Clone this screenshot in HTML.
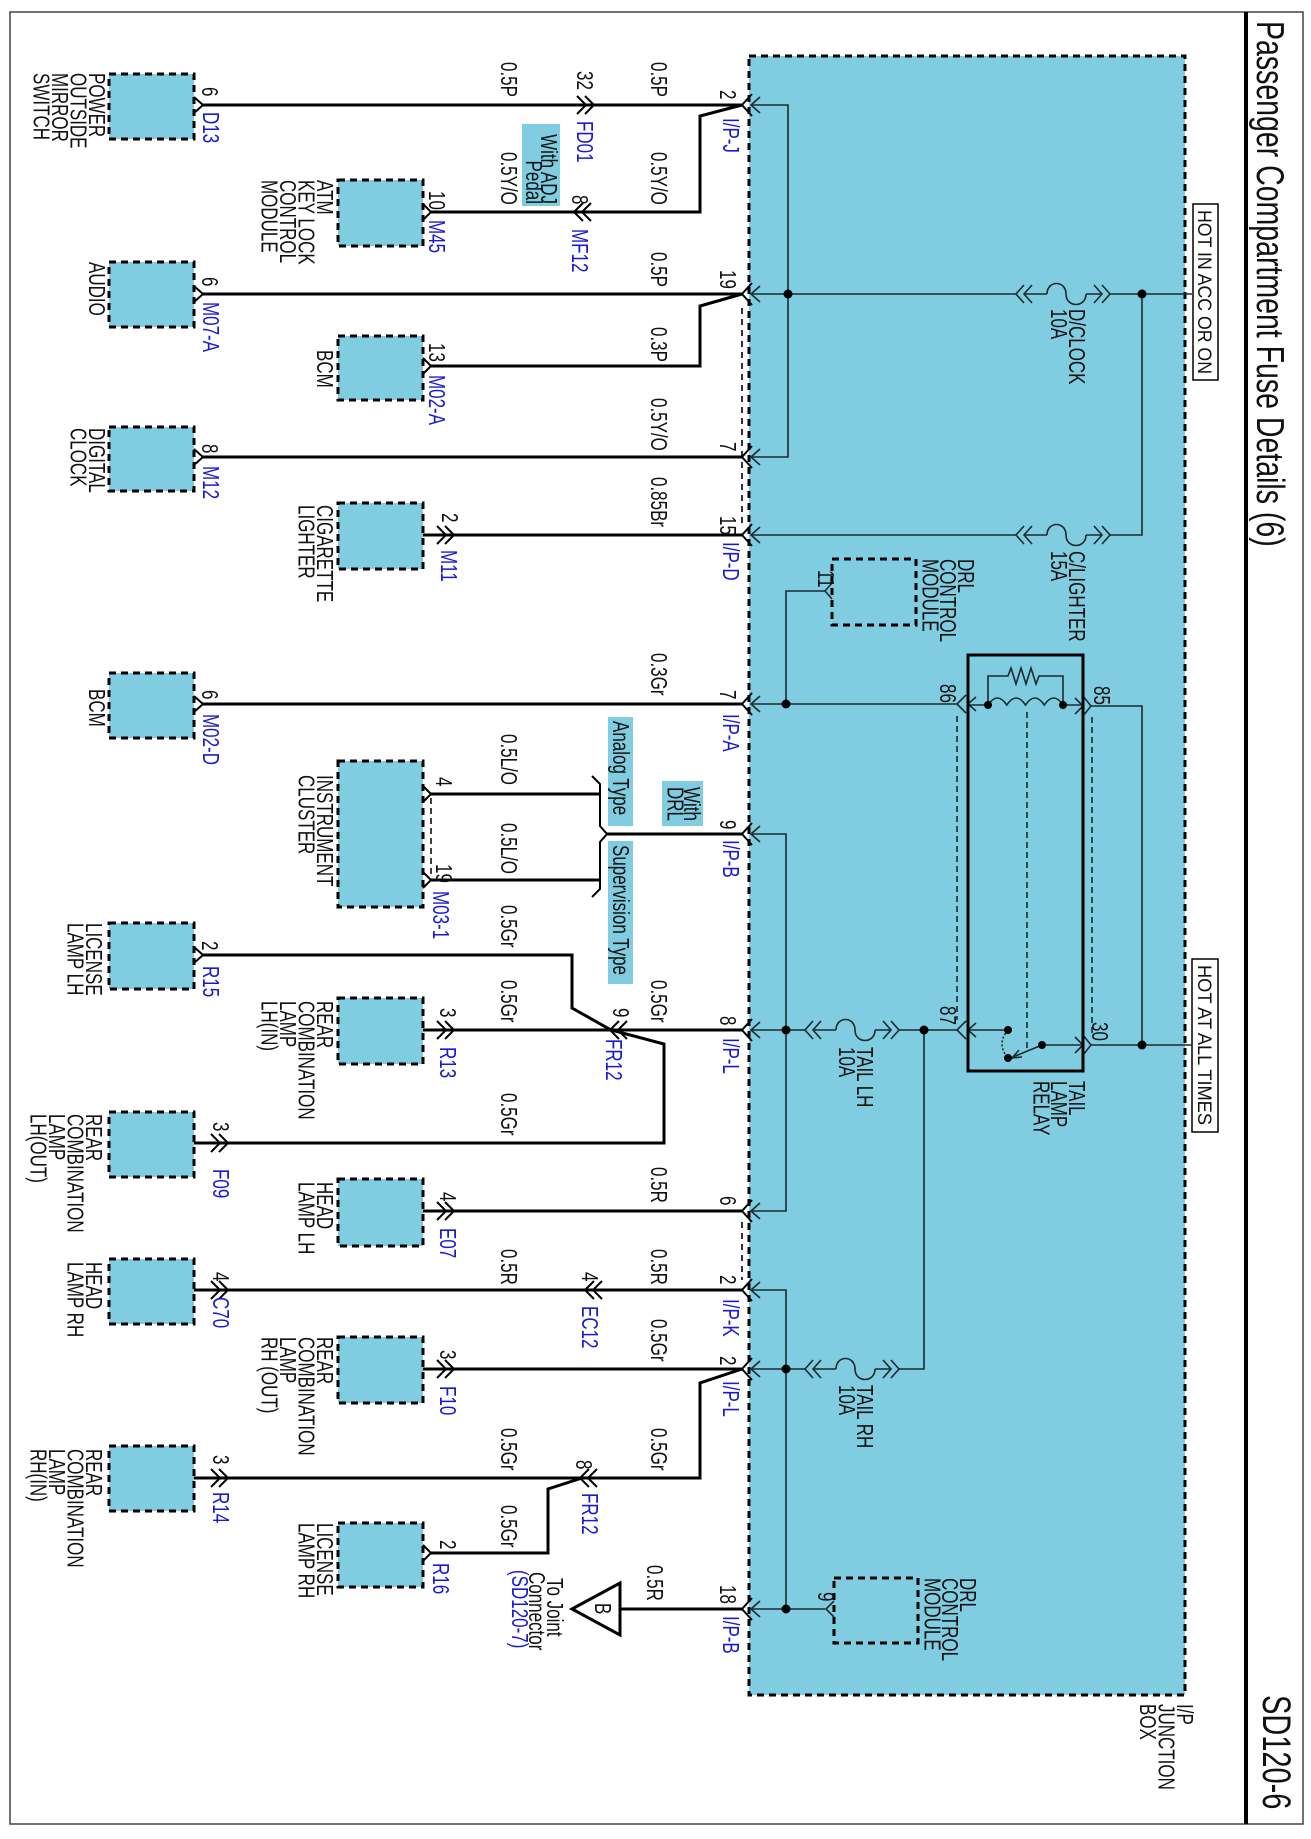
<!DOCTYPE html>
<html><head><meta charset="utf-8"><style>
html,body{margin:0;padding:0;background:#fff}
svg{display:block}
text{font-family:"Liberation Sans",Arial,sans-serif;font-size:17px;fill:#111}
.b{fill:#1a1ad2}
.w{fill:none;stroke:#000;stroke-width:3}
.c{fill:none;stroke:#000;stroke-width:2}
.i{fill:none;stroke:#1b2a30;stroke-width:1.6}
.box{fill:#80cde1;stroke:#000;stroke-width:3;stroke-dasharray:7,5}
.lb{fill:#80cde1}
</style></head><body>
<svg width="1311" height="1839" viewBox="0 0 1311 1839" xmlns="http://www.w3.org/2000/svg">
<rect x="10" y="12" width="1293" height="1812" fill="none" stroke="#444" stroke-width="1.5"/>
<line x1="1246" y1="12" x2="1246" y2="1824" stroke="#000" stroke-width="4"/>
<text style="font-size:28.5px" transform="translate(1257,21) rotate(90) scale(1,1.37)">Passenger Compartment Fuse Details (6)</text>
<text style="font-size:29px" transform="translate(1263,1695) rotate(90) scale(1,1.37)">SD120-6</text>

<!-- junction box -->
<rect x="749" y="56" width="436" height="1639" fill="#80cde1" stroke="#000" stroke-width="3" stroke-dasharray="7,5"/>
<text transform="translate(1177,1704) rotate(90) scale(1,1.37)">I/P<tspan x="0" dy="13.5">JUNCTION</tspan><tspan x="0" dy="13.5">BOX</tspan></text>

<!-- HOT boxes -->
<rect x="1193" y="204" width="25" height="176" fill="#fff" stroke="#000" stroke-width="1.5"/>
<text textLength="164" lengthAdjust="spacingAndGlyphs" style="font-size:15px" transform="translate(1198,210) rotate(90) scale(1,1.3)">HOT IN ACC OR ON</text>
<rect x="1192" y="959" width="26" height="173" fill="#fff" stroke="#000" stroke-width="1.5"/>
<text textLength="160" lengthAdjust="spacingAndGlyphs" style="font-size:15px" transform="translate(1198,965) rotate(90) scale(1,1.3)">HOT AT ALL TIMES</text>

<!-- inner wiring -->
<g class="i">
<path d="M751,105 H788 V457 H751"/>
<path d="M751,294 H1016 M1024,294 H1047 M1086,294 H1102 M1110,294 H1192"/>
<path d="M1142,294 V535 H1110 M1086,535 H1102 M1024,535 H1047 M751,535 H1016"/>
<path d="M1047,294 C1047,280 1066,280 1066,294 C1066,308 1086,308 1086,294"/>
<path d="M1047,535 C1047,521 1066,521 1066,535 C1066,549 1086,549 1086,535"/>
<path d="M1024,285 L1016,294 L1024,303 M1032,285 L1024,294 L1032,303 M1094,285 L1102,294 L1094,303 M1102,285 L1110,294 L1102,303"/>
<path d="M1024,526 L1016,535 L1024,544 M1032,526 L1024,535 L1032,544 M1094,526 L1102,535 L1094,544 M1102,526 L1110,535 L1102,544"/>
<path d="M825,591 H786 V704 M751,704 H957"/>
<path d="M751,834 H786 V1211 H751"/>
<path d="M751,1030 H805 M813,1030 H836 M875,1030 H891 M899,1030 H957"/>
<path d="M836,1030 C836,1016 855,1016 855,1030 C855,1044 875,1044 875,1030"/>
<path d="M813,1021 L805,1030 L813,1039 M821,1021 L813,1030 L821,1039 M883,1021 L891,1030 L883,1039 M891,1021 L899,1030 L891,1039"/>
<path d="M924,1030 V1369 H899 M875,1369 H891 M813,1369 H836 M751,1369 H805"/>
<path d="M836,1369 C836,1355 855,1355 855,1369 C855,1383 875,1383 875,1369"/>
<path d="M813,1360 L805,1369 L813,1378 M821,1360 L813,1369 L821,1378 M883,1360 L891,1369 L883,1378 M891,1360 L899,1369 L891,1378"/>
<path d="M751,1290 H786 V1609 H825 M751,1609 H786"/>
<!-- relay -->
<path d="M969,705 H988 M1063,705 H1083 M1091,706 H1142 V1045"/>
<path d="M988,705 q9.4,-14 18.75,0 q9.4,-14 18.75,0 q9.4,-14 18.75,0 q9.4,-14 18.75,0"/>
<path d="M988,705 V676 H1008 l3,-8 l5,16 l5,-16 l5,16 l5,-16 l5,16 l3,-8 H1063 V705"/>
<path d="M966,695 L957,704 L966,713 M976,697 L968,704 L976,711"/>
<path d="M1075,698 L1083,706 L1075,714 M1083,696 L1091,706 L1083,716"/>
<path d="M966,1021 L957,1030 L966,1039 M976,1023 L968,1030 L976,1037 M968,1030 H1008"/>
<path d="M1042,1045 L1013,1057 M1042,1045 H1083 M1091,1045 H1192"/>
<path d="M1075,1037 L1083,1045 L1075,1053 M1083,1035 L1091,1045 L1083,1055"/>
<path d="M1019,1050 L1012,1058 L1022,1057"/>
<path d="M1008,1030 Q996,1044 1008,1058" stroke-dasharray="2,2"/>
<path d="M957,716 V1020 M1092,717 V1035 M1027,712 V1052" stroke-dasharray="6,4"/>
</g>
<rect x="968" y="655" width="115" height="416" fill="none" stroke="#000" stroke-width="3"/>
<g fill="#000">
<circle cx="788" cy="294" r="4.5"/><circle cx="1142" cy="294" r="4.5"/><circle cx="786" cy="704" r="4.5"/>
<circle cx="786" cy="1030" r="4.5"/><circle cx="924" cy="1030" r="4.5"/><circle cx="786" cy="1369" r="4.5"/>
<circle cx="786" cy="1609" r="4.5"/><circle cx="1142" cy="1045" r="4.5"/>
<circle cx="988" cy="705" r="4"/><circle cx="1063" cy="705" r="4"/>
<circle cx="1008" cy="1030" r="4"/><circle cx="1008" cy="1058" r="4"/><circle cx="1042" cy="1045" r="4"/>
</g>
<!-- DRL modules -->
<rect x="832" y="559" width="84" height="66" fill="none" stroke="#000" stroke-width="3" stroke-dasharray="7,5"/>
<path class="i" d="M832,583 L825,591 L832,599"/>
<rect x="834" y="1578" width="84" height="65" fill="none" stroke="#000" stroke-width="3" stroke-dasharray="7,5"/>
<path class="i" d="M834,1601 L826,1609 L834,1617"/>
<text transform="translate(958,559) rotate(90) scale(1,1.37)">DRL<tspan x="0" dy="13">CONTROL</tspan><tspan x="0" dy="13">MODULE</tspan></text>
<text transform="translate(960,1578) rotate(90) scale(1,1.37)">DRL<tspan x="0" dy="13">CONTROL</tspan><tspan x="0" dy="13">MODULE</tspan></text>
<text transform="translate(1069,309) rotate(90) scale(1,1.37)">D/CLOCK<tspan x="0" dy="13">10A</tspan></text>
<text transform="translate(1069,551) rotate(90) scale(1,1.37)">C/LIGHTER<tspan x="0" dy="13">15A</tspan></text>
<text transform="translate(1069,1081) rotate(90) scale(1,1.37)">TAIL<tspan x="0" dy="13">LAMP</tspan><tspan x="0" dy="13">RELAY</tspan></text>
<text transform="translate(857,1047) rotate(90) scale(1,1.37)">TAIL LH<tspan x="0" dy="13">10A</tspan></text>
<text transform="translate(857,1385) rotate(90) scale(1,1.37)">TAIL RH<tspan x="0" dy="13">10A</tspan></text>
<text transform="translate(940,684) rotate(90) scale(1,1.37)">86</text>
<text transform="translate(1094,686) rotate(90) scale(1,1.37)">85</text>
<text transform="translate(940,1006) rotate(90) scale(1,1.37)">87</text>
<text transform="translate(1092,1022) rotate(90) scale(1,1.37)">30</text>
<text transform="translate(818,570) rotate(90) scale(1,1.37)">11</text>
<text transform="translate(818,1592) rotate(90) scale(1,1.37)">9</text>

<!-- junction connectors -->
<g class="c">
<path d="M752,94 L742,105 L752,116 M752,283 L742,294 L752,305 M752,446 L742,457 L752,468 M752,524 L742,535 L752,546 M752,693 L742,704 L752,715 M752,823 L742,834 L752,845 M752,1019 L742,1030 L752,1041 M752,1200 L742,1211 L752,1222 M752,1279 L742,1290 L752,1301 M752,1358 L742,1369 L752,1380 M752,1598 L742,1609 L752,1620"/>
</g>
<g class="i">
<path d="M760,97 L751,105 L760,113 M760,286 L751,294 L760,302 M760,449 L751,457 L760,465 M760,527 L751,535 L760,543 M760,696 L751,704 L760,712 M760,826 L751,834 L760,842 M760,1022 L751,1030 L760,1038 M760,1203 L751,1211 L760,1219 M760,1282 L751,1290 L760,1298 M760,1361 L751,1369 L760,1377 M760,1601 L751,1609 L760,1617"/>
<path d="M742,308 V526 M742,1222 V1280" stroke="#000" stroke-dasharray="6,5"/>
</g>

<!-- component boxes -->
<rect class="box" x="109" y="74" width="85" height="65"/>
<rect class="box" x="338" y="180" width="85" height="66"/>
<rect class="box" x="109" y="262" width="85" height="65"/>
<rect class="box" x="338" y="336" width="85" height="64"/>
<rect class="box" x="109" y="427" width="85" height="64"/>
<rect class="box" x="338" y="503" width="85" height="66"/>
<rect class="box" x="109" y="673" width="85" height="65"/>
<rect class="box" x="338" y="761" width="85" height="146"/>
<rect class="box" x="109" y="923" width="85" height="66"/>
<rect class="box" x="338" y="998" width="85" height="66"/>
<rect class="box" x="109" y="1112" width="85" height="65"/>
<rect class="box" x="338" y="1179" width="85" height="67"/>
<rect class="box" x="109" y="1259" width="85" height="65"/>
<rect class="box" x="338" y="1337" width="85" height="66"/>
<rect class="box" x="109" y="1446" width="85" height="65"/>
<rect class="box" x="338" y="1523" width="85" height="64"/>

<!-- label boxes -->
<rect class="lb" x="522" y="124" width="38" height="82"/>
<rect class="lb" x="608" y="717" width="25" height="109"/>
<rect class="lb" x="608" y="841" width="25" height="143"/>
<rect class="lb" x="662" y="781" width="41" height="45"/>
<text text-anchor="end" transform="translate(541,204) rotate(90) scale(1,1.37)">With ADJ<tspan x="0" dy="11">Pedal</tspan></text>
<text transform="translate(613,721) rotate(90) scale(1,1.37)">Analog Type</text>
<text transform="translate(613,845) rotate(90) scale(1,1.37)">Supervision Type</text>
<text text-anchor="end" transform="translate(684,821) rotate(90) scale(1,1.37)">With<tspan x="0" dy="12">DRL</tspan></text>

<!-- outer wiring -->
<g class="w">
<path d="M203,105 H742 M742,105 L700,116 V212 H431"/>
<path d="M203,294 H742 M742,294 L700,306 V366 H431"/>
<path d="M203,457 H742"/>
<path d="M423,535 H742"/>
<path d="M203,704 H742"/>
<path d="M607,834 H742 M431,794 H600 M431,880 H600"/>
<path d="M203,955 H572 V1008 L611,1030 L664,1044 V1143 H194"/>
<path d="M423,1030 H742"/>
<path d="M423,1211 H742"/>
<path d="M194,1290 H742"/>
<path d="M423,1369 H742 M742,1369 L700,1383 V1478 H194"/>
<path d="M582,1478 L548,1489 V1553 H431"/>
<path d="M620,1609 H742"/>
</g>
<path d="M592,776 L600,784 V826 L607,834 L600,842 V889 L592,897" fill="none" stroke="#000" stroke-width="2"/>
<path d="M431,798 V876" fill="none" stroke="#000" stroke-width="1.5" stroke-dasharray="6,4"/>
<polygon points="572,1609 620,1583 620,1635" fill="#fff" stroke="#000" stroke-width="3"/>
<text transform="translate(595,1603) rotate(90) scale(1,1.37)">B</text>

<!-- pins -->
<g class="c">
<path d="M194,97 L203,105 L194,113 M194,286 L203,294 L194,302 M194,449 L203,457 L194,465 M194,696 L203,704 L194,712 M194,947 L203,955 L194,963"/>
<path d="M423,204 L431,212 L423,220 M423,358 L431,366 L423,374 M423,786 L431,794 L423,802 M423,872 L431,880 L423,888 M423,1545 L431,1553 L423,1561"/>
<path d="M437,526 L446,535 L437,544 M445,526 L454,535 L445,544"/>
<path d="M437,1021 L446,1030 L437,1039 M445,1021 L454,1030 L445,1039"/>
<path d="M437,1202 L446,1211 L437,1220 M445,1202 L454,1211 L445,1220"/>
<path d="M437,1360 L446,1369 L437,1378 M445,1360 L454,1369 L445,1378"/>
<path d="M211,1134 L220,1143 L211,1152 M219,1134 L228,1143 L219,1152"/>
<path d="M211,1281 L220,1290 L211,1299 M219,1281 L228,1290 L219,1299"/>
<path d="M211,1469 L220,1478 L211,1487 M219,1469 L228,1478 L219,1487"/>
<path d="M577,96 L586,105 L577,114 M585,96 L594,105 L585,114"/>
<path d="M583,203 L574,212 L583,221 M591,203 L582,212 L591,221"/>
<path d="M619,1021 L610,1030 L619,1039 M627,1021 L618,1030 L627,1039"/>
<path d="M594,1281 L585,1290 L594,1299 M602,1281 L593,1290 L602,1299"/>
<path d="M589,1469 L580,1478 L589,1487 M597,1469 L588,1478 L597,1487"/>
</g>

<!-- wire labels -->
<g>
<text transform="translate(651,62) rotate(90) scale(1,1.37)">0.5P</text>
<text transform="translate(501,62) rotate(90) scale(1,1.37)">0.5P</text>
<text transform="translate(651,152) rotate(90) scale(1,1.37)">0.5Y/O</text>
<text transform="translate(501,152) rotate(90) scale(1,1.37)">0.5Y/O</text>
<text transform="translate(651,252) rotate(90) scale(1,1.37)">0.5P</text>
<text transform="translate(651,327) rotate(90) scale(1,1.37)">0.3P</text>
<text transform="translate(651,398) rotate(90) scale(1,1.37)">0.5Y/O</text>
<text transform="translate(651,477) rotate(90) scale(1,1.37)">0.85Br</text>
<text transform="translate(651,653) rotate(90) scale(1,1.37)">0.3Gr</text>
<text transform="translate(501,734) rotate(90) scale(1,1.37)">0.5L/O</text>
<text transform="translate(501,823) rotate(90) scale(1,1.37)">0.5L/O</text>
<text transform="translate(501,905) rotate(90) scale(1,1.37)">0.5Gr</text>
<text transform="translate(651,980) rotate(90) scale(1,1.37)">0.5Gr</text>
<text transform="translate(501,980) rotate(90) scale(1,1.37)">0.5Gr</text>
<text transform="translate(501,1093) rotate(90) scale(1,1.37)">0.5Gr</text>
<text transform="translate(651,1167) rotate(90) scale(1,1.37)">0.5R</text>
<text transform="translate(651,1249) rotate(90) scale(1,1.37)">0.5R</text>
<text transform="translate(501,1249) rotate(90) scale(1,1.37)">0.5R</text>
<text transform="translate(651,1319) rotate(90) scale(1,1.37)">0.5Gr</text>
<text transform="translate(651,1428) rotate(90) scale(1,1.37)">0.5Gr</text>
<text transform="translate(501,1428) rotate(90) scale(1,1.37)">0.5Gr</text>
<text transform="translate(501,1505) rotate(90) scale(1,1.37)">0.5Gr</text>
<text transform="translate(647,1565) rotate(90) scale(1,1.37)">0.5R</text>
</g>

<!-- pin numbers -->
<g>
<text transform="translate(202,87) rotate(90) scale(1,1.37)">6</text>
<text transform="translate(577,71) rotate(90) scale(1,1.37)">32</text>
<text transform="translate(720,90) rotate(90) scale(1,1.37)">2</text>
<text transform="translate(429,191) rotate(90) scale(1,1.37)">10</text>
<text transform="translate(572,195) rotate(90) scale(1,1.37)">8</text>
<text transform="translate(202,277) rotate(90) scale(1,1.37)">6</text>
<text transform="translate(720,270) rotate(90) scale(1,1.37)">19</text>
<text transform="translate(429,343) rotate(90) scale(1,1.37)">13</text>
<text transform="translate(202,444) rotate(90) scale(1,1.37)">8</text>
<text transform="translate(720,442) rotate(90) scale(1,1.37)">7</text>
<text transform="translate(442,513) rotate(90) scale(1,1.37)">2</text>
<text transform="translate(720,516) rotate(90) scale(1,1.37)">15</text>
<text transform="translate(202,690) rotate(90) scale(1,1.37)">6</text>
<text transform="translate(720,690) rotate(90) scale(1,1.37)">7</text>
<text transform="translate(436,777) rotate(90) scale(1,1.37)">4</text>
<text transform="translate(436,864) rotate(90) scale(1,1.37)">19</text>
<text transform="translate(720,820) rotate(90) scale(1,1.37)">9</text>
<text transform="translate(202,941) rotate(90) scale(1,1.37)">2</text>
<text transform="translate(720,1016) rotate(90) scale(1,1.37)">8</text>
<text transform="translate(613,1008) rotate(90) scale(1,1.37)">9</text>
<text transform="translate(440,1008) rotate(90) scale(1,1.37)">3</text>
<text transform="translate(213,1122) rotate(90) scale(1,1.37)">3</text>
<text transform="translate(720,1196) rotate(90) scale(1,1.37)">6</text>
<text transform="translate(440,1192) rotate(90) scale(1,1.37)">4</text>
<text transform="translate(213,1272) rotate(90) scale(1,1.37)">4</text>
<text transform="translate(582,1272) rotate(90) scale(1,1.37)">4</text>
<text transform="translate(720,1275) rotate(90) scale(1,1.37)">2</text>
<text transform="translate(440,1350) rotate(90) scale(1,1.37)">3</text>
<text transform="translate(720,1356) rotate(90) scale(1,1.37)">2</text>
<text transform="translate(576,1460) rotate(90) scale(1,1.37)">8</text>
<text transform="translate(213,1455) rotate(90) scale(1,1.37)">3</text>
<text transform="translate(440,1540) rotate(90) scale(1,1.37)">2</text>
<text transform="translate(720,1585) rotate(90) scale(1,1.37)">18</text>
</g>

<!-- connector ids -->
<g class="b">
<text class="b" transform="translate(203,112) rotate(90) scale(1,1.37)">D13</text>
<text class="b" transform="translate(577,121) rotate(90) scale(1,1.37)">FD01</text>
<text class="b" transform="translate(723,118) rotate(90) scale(1,1.37)">I/P-J</text>
<text class="b" transform="translate(429,220) rotate(90) scale(1,1.37)">M45</text>
<text class="b" transform="translate(572,229) rotate(90) scale(1,1.37)">MF12</text>
<text class="b" transform="translate(203,302) rotate(90) scale(1,1.37)">M07-A</text>
<text class="b" transform="translate(429,375) rotate(90) scale(1,1.37)">M02-A</text>
<text class="b" transform="translate(203,466) rotate(90) scale(1,1.37)">M12</text>
<text class="b" transform="translate(441,550) rotate(90) scale(1,1.37)">M11</text>
<text class="b" transform="translate(723,542) rotate(90) scale(1,1.37)">I/P-D</text>
<text class="b" transform="translate(203,714) rotate(90) scale(1,1.37)">M02-D</text>
<text class="b" transform="translate(723,714) rotate(90) scale(1,1.37)">I/P-A</text>
<text class="b" transform="translate(433,891) rotate(90) scale(1,1.37)">M03-1</text>
<text class="b" transform="translate(723,840) rotate(90) scale(1,1.37)">I/P-B</text>
<text class="b" transform="translate(203,966) rotate(90) scale(1,1.37)">R15</text>
<text class="b" transform="translate(723,1038) rotate(90) scale(1,1.37)">I/P-L</text>
<text class="b" transform="translate(606,1039) rotate(90) scale(1,1.37)">FR12</text>
<text class="b" transform="translate(440,1047) rotate(90) scale(1,1.37)">R13</text>
<text class="b" transform="translate(213,1169) rotate(90) scale(1,1.37)">F09</text>
<text class="b" transform="translate(440,1228) rotate(90) scale(1,1.37)">E07</text>
<text class="b" transform="translate(213,1297) rotate(90) scale(1,1.37)">C70</text>
<text class="b" transform="translate(582,1306) rotate(90) scale(1,1.37)">EC12</text>
<text class="b" transform="translate(723,1299) rotate(90) scale(1,1.37)">I/P-K</text>
<text class="b" transform="translate(440,1386) rotate(90) scale(1,1.37)">F10</text>
<text class="b" transform="translate(723,1381) rotate(90) scale(1,1.37)">I/P-L</text>
<text class="b" transform="translate(213,1492) rotate(90) scale(1,1.37)">R14</text>
<text class="b" transform="translate(582,1493) rotate(90) scale(1,1.37)">FR12</text>
<text class="b" transform="translate(433,1563) rotate(90) scale(1,1.37)">R16</text>
<text class="b" transform="translate(723,1616) rotate(90) scale(1,1.37)">I/P-B</text>
</g>

<!-- component names -->
<g>
<text transform="translate(89,73) rotate(90) scale(1,1.37)">POWER<tspan x="0" dy="13.5">OUTSIDE</tspan><tspan x="0" dy="13.5">MIRROR</tspan><tspan x="0" dy="13.5">SWITCH</tspan></text>
<text transform="translate(317,180) rotate(90) scale(1,1.37)">ATM<tspan x="0" dy="13.5">KEY LOCK</tspan><tspan x="0" dy="13.5">CONTROL</tspan><tspan x="0" dy="13.5">MODULE</tspan></text>
<text transform="translate(89,262) rotate(90) scale(1,1.37)">AUDIO</text>
<text transform="translate(317,350) rotate(90) scale(1,1.37)">BCM</text>
<text transform="translate(89,428) rotate(90) scale(1,1.37)">DIGITAL<tspan x="0" dy="13.5">CLOCK</tspan></text>
<text transform="translate(317,505) rotate(90) scale(1,1.37)">CIGARETTE<tspan x="0" dy="13.5">LIGHTER</tspan></text>
<text transform="translate(89,689) rotate(90) scale(1,1.37)">BCM</text>
<text transform="translate(317,775) rotate(90) scale(1,1.37)">INSTRUMENT<tspan x="0" dy="13.5">CLUSTER</tspan></text>
<text transform="translate(86,923) rotate(90) scale(1,1.37)">LICENSE<tspan x="0" dy="13.5">LAMP LH</tspan></text>
<text transform="translate(317,1001) rotate(90) scale(1,1.37)">REAR<tspan x="0" dy="13.5">COMBINATION</tspan><tspan x="0" dy="13.5">LAMP</tspan><tspan x="0" dy="13.5">LH(IN)</tspan></text>
<text transform="translate(86,1114) rotate(90) scale(1,1.37)">REAR<tspan x="0" dy="13.5">COMBINATION</tspan><tspan x="0" dy="13.5">LAMP</tspan><tspan x="0" dy="13.5">LH(OUT)</tspan></text>
<text transform="translate(317,1182) rotate(90) scale(1,1.37)">HEAD<tspan x="0" dy="13.5">LAMP LH</tspan></text>
<text transform="translate(86,1262) rotate(90) scale(1,1.37)">HEAD<tspan x="0" dy="13.5">LAMP RH</tspan></text>
<text transform="translate(317,1337) rotate(90) scale(1,1.37)">REAR<tspan x="0" dy="13.5">COMBINATION</tspan><tspan x="0" dy="13.5">LAMP</tspan><tspan x="0" dy="13.5">RH (OUT)</tspan></text>
<text transform="translate(86,1449) rotate(90) scale(1,1.37)">REAR<tspan x="0" dy="13.5">COMBINATION</tspan><tspan x="0" dy="13.5">LAMP</tspan><tspan x="0" dy="13.5">RH(IN)</tspan></text>
<text transform="translate(317,1523) rotate(90) scale(1,1.37)">LICENSE<tspan x="0" dy="13.5">LAMP RH</tspan></text>
<text transform="translate(547,1578) rotate(90) scale(1,1.37)">To Joint<tspan x="-6" dy="13">Connector</tspan></text>
<text class="b" transform="translate(512,1570) rotate(90) scale(1,1.37)">(SD120-7)</text>
</g>
</svg>
</body></html>
